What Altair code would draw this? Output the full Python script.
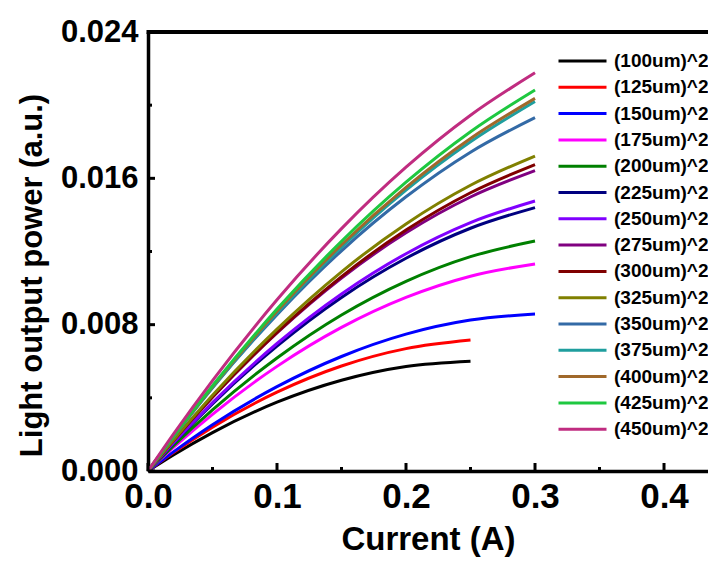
import altair as alt
import pandas as pd

# ---------------- data ----------------
current = [0.0, 0.02, 0.05, 0.10, 0.15, 0.20, 0.25, 0.30]

series_names = ["(100um)^2", "(125um)^2", "(150um)^2", "(175um)^2", "(200um)^2",
                "(225um)^2", "(250um)^2", "(275um)^2", "(300um)^2", "(325um)^2",
                "(350um)^2", "(375um)^2", "(400um)^2", "(425um)^2", "(450um)^2"]

p100 = [0.0, 0.00089, 0.00210, 0.00376, 0.00496, 0.00571, 0.00600]
p125 = [0.0, 0.00102, 0.00240, 0.00431, 0.00574, 0.00669, 0.00716]
p150 = [0.0, 0.00106, 0.00253, 0.00461, 0.00626, 0.00748, 0.00825, 0.00858]
p175 = [0.0, 0.00130, 0.00310, 0.00572, 0.00785, 0.00949, 0.01065, 0.01132]
p200 = [0.0, 0.00140, 0.00334, 0.00618, 0.00853, 0.01037, 0.01172, 0.01257]
p225 = [0.0, 0.00153, 0.00367, 0.00683, 0.00949, 0.01163, 0.01327, 0.01440]
p250 = [0.0, 0.00156, 0.00374, 0.00697, 0.00968, 0.01188, 0.01358, 0.01476]
p275 = [0.0, 0.00168, 0.00403, 0.00755, 0.01055, 0.01302, 0.01498, 0.01642]
p300 = [0.0, 0.00168, 0.00404, 0.00758, 0.01063, 0.01317, 0.01521, 0.01675]
p325 = [0.0, 0.00171, 0.00414, 0.00776, 0.01089, 0.01351, 0.01562, 0.01722]
p350 = [0.0, 0.00188, 0.00455, 0.00855, 0.01204, 0.01499, 0.01743, 0.01932]
p375 = [0.0, 0.00188, 0.00456, 0.00864, 0.01224, 0.01536, 0.01800, 0.02020]
p400 = [0.0, 0.00190, 0.00461, 0.00873, 0.01237, 0.01551, 0.01818, 0.02037]
p425 = [0.0, 0.00192, 0.00466, 0.00885, 0.01256, 0.01579, 0.01855, 0.02083]
p450 = [0.0, 0.00204, 0.00494, 0.00936, 0.01325, 0.01661, 0.01945, 0.02177]

series_values = [p100, p125, p150, p175, p200, p225, p250, p275, p300, p325,
                 p350, p375, p400, p425, p450]

colors = ["#000000", "#ff0000", "#0000ff", "#ff00ff", "#008000",
          "#000080", "#8000ff", "#800080", "#800000", "#808000",
          "#336aa6", "#1f9e9e", "#a0682a", "#1ec840", "#c02c80"]

x_major = [0.0, 0.1, 0.2, 0.3, 0.4]
x_minor = [0.05, 0.15, 0.25, 0.35]
y_major = [0.0, 0.008, 0.016, 0.024]
y_minor = [0.004, 0.012, 0.020]

# ---------------- build tables ----------------
rows = []
for order, (name, vals) in enumerate(zip(series_names, series_values)):
    for xv, yv in zip(current, vals):
        rows.append({"size": name, "order": order, "current": xv, "power": yv})
df = pd.DataFrame(rows)

W, H = 560, 439
FONT = "Liberation Sans"
xscale = alt.Scale(domain=[0, 0.4341], nice=False, zero=False)
yscale = alt.Scale(domain=[0, 0.024], nice=False, zero=False)

xaxis = alt.Axis(values=x_major, format=".1f", title="Current (A)",
                 tickSize=0, domainWidth=3.5, domainColor="black",
                 labelFont=FONT, labelFontSize=35, labelFontWeight="bold",
                 labelColor="black", labelPadding=8, labelFlush=False,
                 titleFont=FONT, titleFontSize=33, titleFontWeight="bold",
                 titleColor="black", titlePadding=9, grid=False)
yaxis = alt.Axis(values=y_major, format=".3f",
                 title="Light output power (a.u.)",
                 tickSize=0, domainWidth=3.5, domainColor="black",
                 labelFont=FONT, labelFontSize=31, labelFontWeight="bold",
                 labelColor="black", labelPadding=10, labelFlush=False,
                 titleFont=FONT, titleFontSize=31, titleFontWeight="bold",
                 titleColor="black", titlePadding=12, titleY=243, grid=False)

lines = alt.Chart(df).mark_line(strokeWidth=3, interpolate="monotone").encode(
    x=alt.X("current:Q", scale=xscale, axis=xaxis),
    y=alt.Y("power:Q", scale=yscale, axis=yaxis),
    color=alt.Color("size:N", sort=series_names,
                    scale=alt.Scale(domain=series_names, range=colors),
                    legend=alt.Legend(title=None, orient="none", legendX=409,
                                      legendY=19, symbolType="stroke",
                                      symbolSize=2304, symbolStrokeWidth=3,
                                      clipHeight=20, rowPadding=6.3,
                                      labelFont=FONT, labelFontSize=19,
                                      labelFontWeight="bold", labelColor="black",
                                      labelOffset=6, padding=0)),
    order=alt.Order("order:Q"),
)

xt_major = alt.Chart(pd.DataFrame({"t": x_major})).mark_rule(
    color="black", strokeWidth=3).encode(
    x=alt.X("t:Q", scale=xscale, axis=xaxis), y=alt.value(H), y2=alt.value(H - 8))
xt_minor = alt.Chart(pd.DataFrame({"t": x_minor})).mark_rule(
    color="black", strokeWidth=3).encode(
    x=alt.X("t:Q", scale=xscale, axis=xaxis), y=alt.value(H), y2=alt.value(H - 4))
yt_major = alt.Chart(pd.DataFrame({"t": y_major})).mark_rule(
    color="black", strokeWidth=3).encode(
    y=alt.Y("t:Q", scale=yscale, axis=yaxis), x=alt.value(0), x2=alt.value(7))
yt_minor = alt.Chart(pd.DataFrame({"t": y_minor})).mark_rule(
    color="black", strokeWidth=3).encode(
    y=alt.Y("t:Q", scale=yscale, axis=yaxis), x=alt.value(0), x2=alt.value(4))
top_line = alt.Chart(pd.DataFrame({"t": [0]})).mark_rule(
    color="black", strokeWidth=4).encode(
    x=alt.value(-1.5), x2=alt.value(W + 10), y=alt.value(0))

chart = alt.layer(lines, xt_major, xt_minor, yt_major, yt_minor, top_line).properties(
    width=W, height=H,
    autosize=alt.AutoSizeParams(type="none"),
    padding={"left": 140, "top": 24, "right": 0, "bottom": 86},
    background="white",
).configure_view(strokeWidth=0)

chart.save("out.html", embed_options={"renderer": "svg", "actions": False})
